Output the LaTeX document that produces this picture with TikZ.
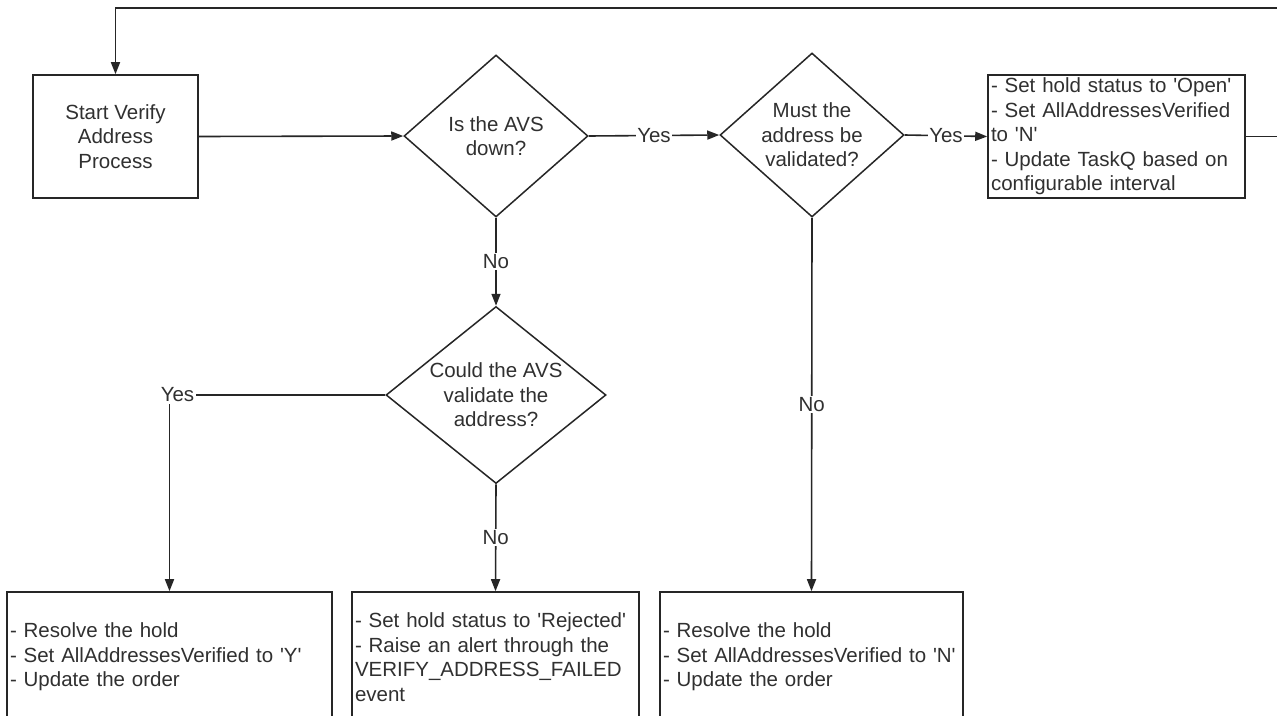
\documentclass[tikz,border=0pt]{standalone}
\usepackage{fontspec}
\setmainfont{Liberation Sans}
\usetikzlibrary{shapes.geometric,arrows.meta}
\definecolor{lc}{HTML}{262626}
\definecolor{tc}{HTML}{303030}
\newcommand{\sq}{\textquotesingle}
\begin{document}
\begin{tikzpicture}[x=1pt,y=-1pt,
  fs/.style={font=\fontsize{20.5pt}{24.5pt}\selectfont},
  box/.style={draw=lc, line width=1.6pt, fill=white, inner sep=3pt, text=tc, fs},
  dia/.style={diamond, draw=lc, line width=1.5pt, inner sep=0pt, fill=white},
  dtext/.style={align=center, text=tc, fs, inner sep=0pt},
  conn/.style={draw=lc, line width=1.6pt},
  arr/.style={conn, -{Triangle[length=12pt,width=9pt]}},
  lbl/.style={fill=white, inner sep=1.5pt, text=tc, fs}]
\clip (0,0) rectangle (1277,715);
\fill[white] (0,0) rectangle (1277,715);

% process boxes
\node[box, align=center, minimum width=165pt, minimum height=123pt] (start) at (115.5,136.5)
  {Start Verify\\Address\\Process};
\node[box, align=left, text width=251pt, minimum height=123pt] (tr) at (1116.5,136.5)
  {- Set hold status to \sq Open\sq\\- Set AllAddressesVerified\\to \sq N\sq\\- Update TaskQ based on\\configurable interval};
\node[box, align=left, text width=319pt, minimum height=130pt] (bl) at (169.5,657)
  {- Resolve the hold\\- Set AllAddressesVerified to \sq Y\sq\\- Update the order};
\node[box, align=left, text width=281pt, minimum height=130pt] (bm) at (495.5,657)
  {- Set hold status to \sq Rejected\sq\\- Raise an alert through the\\VERIFY\_ADDRESS\_FAILED\\event};
\node[box, align=left, text width=297pt, minimum height=130pt] (br) at (811.5,657)
  {- Resolve the hold\\- Set AllAddressesVerified to \sq N\sq\\- Update the order};

% decisions
\node[dia, minimum width=184pt, minimum height=162pt] (d1) at (496,136) {};
\node[dtext] (d1t) at (d1) {Is the AVS\\down?};
\node[dia, minimum width=184pt, minimum height=164pt] (d2) at (812,135) {};
\node[dtext] (d2t) at (d2) {Must the\\address be\\validated?};
\node[dia, minimum width=220pt, minimum height=177pt] (d3) at (496,395) {};
\node[dtext] (d3t) at (d3) {Could the AVS\\validate the\\address?};

% loop back coordinates (off the right edge)
\coordinate (loopR) at (1300,136.5);
\coordinate (loopT) at (1300,8);

% connectors
\draw[arr] (start.east) -- (d1.west);
\draw[arr] (d1.east) -- node[lbl] (y1) {Yes} (d2.west);
\draw[arr] (d2.east) -- node[lbl] (y2) {Yes} (tr.west);
\draw[arr] (d1.south) -- node[lbl] (n1) {No} (d3.north);
\draw[arr] (d3.south) -- node[lbl] (n2) {No} (bm.north);
\draw[arr] (d2.south) -- node[lbl] (n3) {No} (br.north);
\draw[arr] (d3.west) -| node[lbl, pos=0.5, xshift=8pt] (y3) {Yes} (bl.north);
\draw[arr] (tr.east) -- (loopR) -- (loopT) -| (start.north);
\end{tikzpicture}
\end{document}
